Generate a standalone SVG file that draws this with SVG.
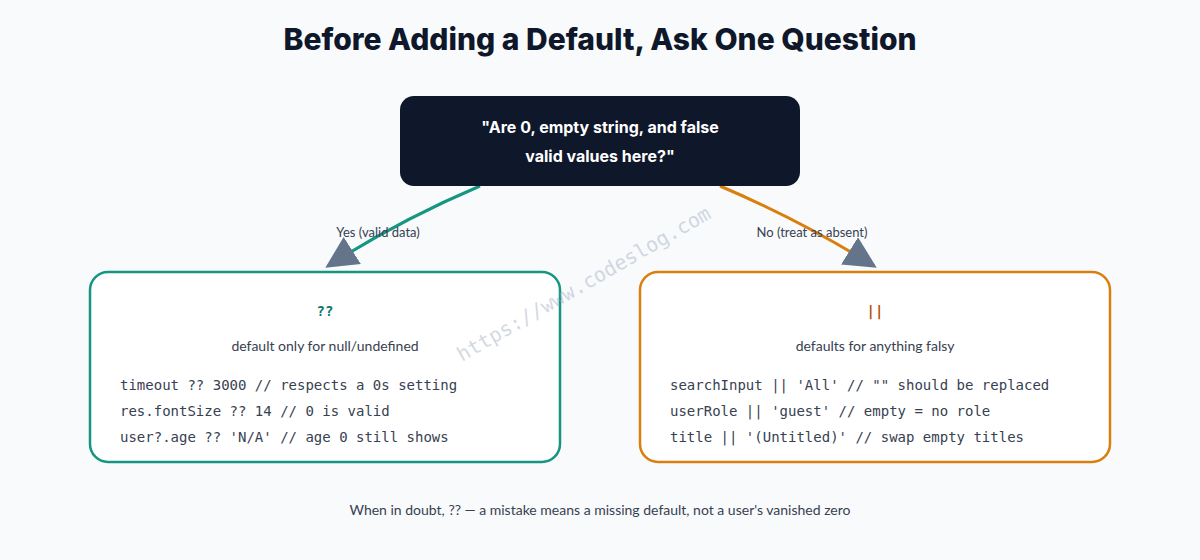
<svg xmlns="http://www.w3.org/2000/svg" width="1200" height="560" viewBox="0 0 1200 560">
<defs>
<style>
.t{font-family:Inter,"Noto Sans",sans-serif}
.m{font-family:"DejaVu Sans Mono",monospace;font-size:14px;fill:#374151}
.lbl{font-family:Lato,"Noto Sans",sans-serif;font-size:13px;fill:#374151}
.sub{font-family:Lato,"Noto Sans",sans-serif;font-size:14px;fill:#374151;text-anchor:middle}
</style>
<marker id="big" viewBox="0 0 10 10" refX="9" refY="5" markerWidth="32" markerHeight="32" markerUnits="userSpaceOnUse" orient="auto">
<path d="M0,0 L10,5 L0,10 z" fill="#64748b"/>
</marker>
</defs>
<rect width="1200" height="560" fill="#f8fafc"/>
<text x="600" y="50" class="t" font-size="30" font-weight="800" fill="#0f172a" text-anchor="middle">Before Adding a Default, Ask One Question</text>
<g id="connectors">
<path d="M480,186 Q400,220 328,266" fill="none" stroke="#169582" stroke-width="3" marker-end="url(#big)"/>
<path d="M720,186 Q800,220 874,266" fill="none" stroke="#d97f0e" stroke-width="3" marker-end="url(#big)"/>
<text x="378" y="237" class="lbl" text-anchor="middle">Yes (valid data)</text>
<text x="812" y="237" class="lbl" text-anchor="middle">No (treat as absent)</text>
</g>
<g id="question">
<rect x="400" y="96" width="400" height="90" rx="14" fill="#0f172a"/>
<text x="600" y="133" class="t" font-size="16" font-weight="700" fill="#fff" text-anchor="middle">"Are 0, empty string, and false</text>
<text x="600" y="162" class="t" font-size="16" font-weight="700" fill="#fff" text-anchor="middle">valid values here?"</text>
</g>
<g id="nullish">
<rect x="90" y="272" width="470" height="190" rx="18" fill="#fff" stroke="#169582" stroke-width="2.5"/>
<text x="325" y="316" font-family="DejaVu Sans Mono,monospace" font-size="14" font-weight="700" fill="#0f766e" text-anchor="middle">??</text>
<text x="325" y="351" class="sub">default only for null/undefined</text>
<text x="120" y="390" class="m">timeout ?? 3000 // respects a 0s setting</text>
<text x="120" y="416" class="m">res.fontSize ?? 14 // 0 is valid</text>
<text x="120" y="442" class="m">user?.age ?? 'N/A' // age 0 still shows</text>
</g>
<g id="or">
<rect x="640" y="272" width="470" height="190" rx="18" fill="#fff" stroke="#d97f0e" stroke-width="2.5"/>
<text x="875" y="316" font-family="DejaVu Sans Mono,monospace" font-size="14" font-weight="700" fill="#b45309" text-anchor="middle">||</text>
<text x="875" y="351" class="sub">defaults for anything falsy</text>
<text x="670" y="390" class="m">searchInput || 'All' // "" should be replaced</text>
<text x="670" y="416" class="m">userRole || 'guest' // empty = no role</text>
<text x="670" y="442" class="m">title || '(Untitled)' // swap empty titles</text>
</g>
<text x="600" y="515" class="sub" font-size="13">When in doubt, ?? — a mistake means a missing default, not a user's vanished zero</text>
<text x="462" y="362" transform="rotate(-30 462 362)" font-family="DejaVu Sans Mono,monospace" font-size="20" fill="#94a3b8" opacity="0.4">https://www.codeslog.com</text>
</svg>
